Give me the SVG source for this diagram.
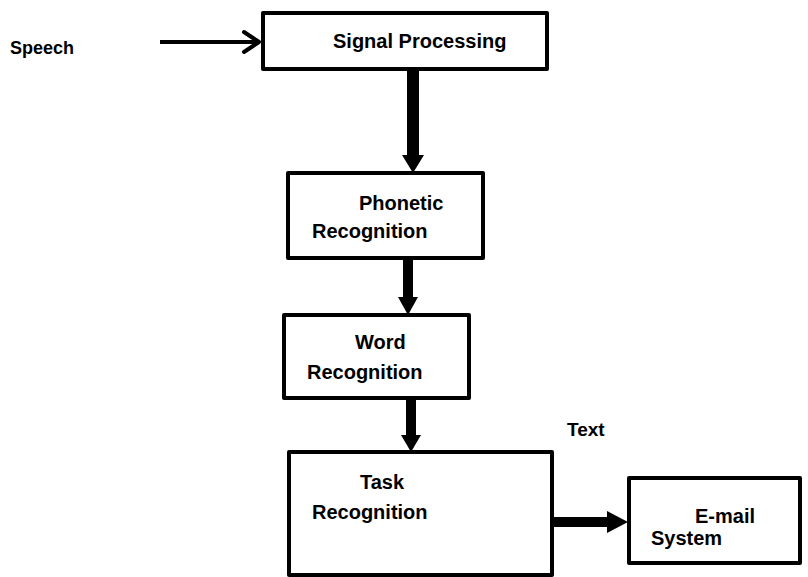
<svg xmlns="http://www.w3.org/2000/svg" width="808" height="577" viewBox="0 0 808 577">
<style>
.box{fill:#fff;stroke:#000;stroke-width:4;stroke-linejoin:round}
.t{font-family:"Liberation Sans",Arial,sans-serif;font-weight:bold;font-size:20px;fill:#000}
.shaft{stroke:#000;fill:none}
.head{fill:#000}
</style>
<rect width="808" height="577" fill="#fff"/>
<text class="t" x="10" y="54" style="font-size:18px">Speech</text>
<text class="t" x="567" y="436" style="font-size:19px">Text</text>
<g id="connectors">
  <line class="shaft" x1="160" y1="42" x2="258" y2="42" stroke-width="4"/>
  <polyline points="244,32 259,42 244,52" fill="none" stroke="#000" stroke-width="4" stroke-linejoin="round" stroke-linecap="round"/>
  <line class="shaft" x1="413" y1="69" x2="413" y2="157" stroke-width="12"/>
  <polygon class="head" points="402,155 424,155 413,173"/>
  <line class="shaft" x1="408" y1="258" x2="408" y2="300" stroke-width="10"/>
  <polygon class="head" points="398,297 418,297 408,315"/>
  <line class="shaft" x1="411" y1="398" x2="411" y2="438" stroke-width="10"/>
  <polygon class="head" points="401,435 421,435 411,452"/>
  <line class="shaft" x1="552" y1="522" x2="610" y2="522" stroke-width="10"/>
  <polygon class="head" points="607,511 607,533 628,522"/>
</g>
<g id="signal">
  <rect class="box" x="263" y="13" width="284" height="56"/>
  <text class="t" x="333" y="48">Signal Processing</text>
</g>
<g id="phonetic">
  <rect class="box" x="288" y="173" width="195" height="85"/>
  <text class="t" x="359" y="210">Phonetic</text>
  <text class="t" x="312" y="238">Recognition</text>
</g>
<g id="word">
  <rect class="box" x="284" y="315" width="185" height="83"/>
  <text class="t" x="355" y="349">Word</text>
  <text class="t" x="307" y="379">Recognition</text>
</g>
<g id="task">
  <rect class="box" x="289" y="452" width="263" height="123"/>
  <text class="t" x="360" y="489">Task</text>
  <text class="t" x="312" y="519">Recognition</text>
</g>
<g id="email">
  <rect class="box" x="629" y="478" width="171" height="85"/>
  <text class="t" x="695" y="523">E-mail</text>
  <text class="t" x="651" y="545">System</text>
</g>
</svg>
